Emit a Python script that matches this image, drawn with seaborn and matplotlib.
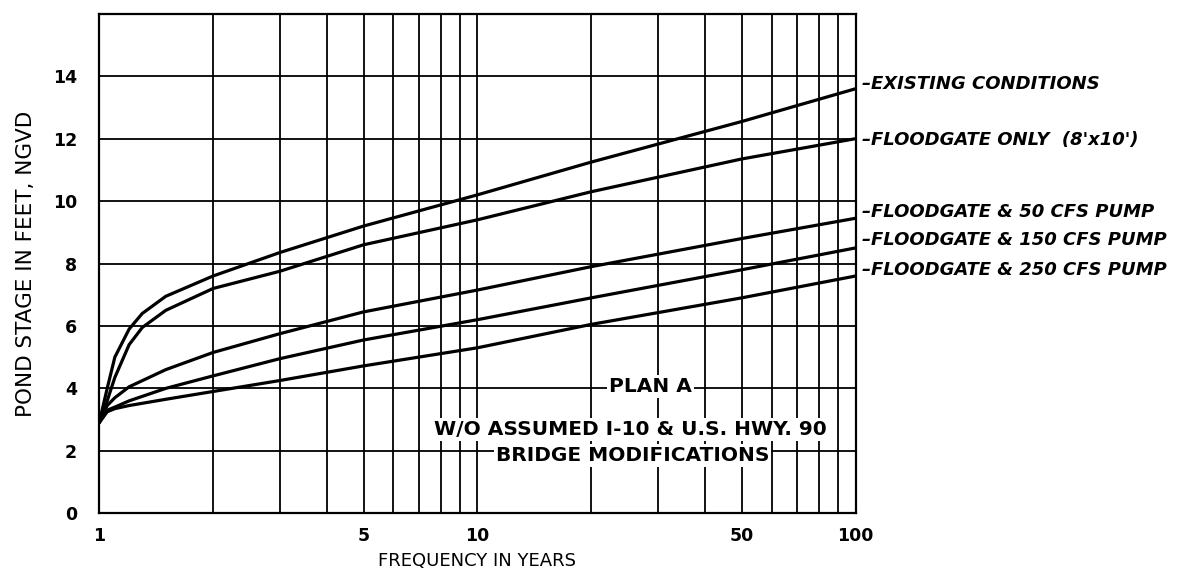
import numpy as np
import pandas as pd
import matplotlib
matplotlib.use("Agg")
import matplotlib.pyplot as plt
import seaborn as sns

# values (frequency in years -> pond stage, ft NGVD)
freq_steep = [1, 1.05, 1.1, 1.2, 1.3, 1.5, 2, 3, 5, 10, 20, 50, 100]
existing = [2.9, 4.0, 5.0, 5.9, 6.4, 6.95, 7.6, 8.35, 9.2, 10.2, 11.25, 12.55, 13.6]
floodgate_only = [2.9, 3.6, 4.35, 5.4, 5.95, 6.5, 7.2, 7.75, 8.6, 9.4, 10.3, 11.35, 12.0]

freq_pump = [1, 1.05, 1.1, 1.2, 1.5, 2, 3, 5, 10, 20, 50, 100]
pump_50 = [2.9, 3.45, 3.7, 4.05, 4.6, 5.15, 5.75, 6.45, 7.15, 7.9, 8.8, 9.45]
pump_150 = [2.9, 3.3, 3.4, 3.6, 4.0, 4.4, 4.95, 5.55, 6.2, 6.9, 7.8, 8.5]
pump_250 = [2.9, 3.25, 3.35, 3.45, 3.65, 3.9, 4.25, 4.72, 5.3, 6.05, 6.9, 7.6]

series_names = ["EXISTING CONDITIONS", "FLOODGATE ONLY  (8'x10')",
                "FLOODGATE & 50 CFS PUMP", "FLOODGATE & 150 CFS PUMP",
                "FLOODGATE & 250 CFS PUMP"]
label_y = [13.75, 11.95, 9.65, 8.75, 7.8]

x_ticks = [1, 5, 10, 50, 100]
y_ticks = [0, 2, 4, 6, 8, 10, 12, 14]

# long table for seaborn
rows = []
for name, xs, ys in zip(series_names,
                        [freq_steep, freq_steep, freq_pump, freq_pump, freq_pump],
                        [existing, floodgate_only, pump_50, pump_150, pump_250]):
    for x, y in zip(xs, ys):
        rows.append((name, x, y))
df = pd.DataFrame(rows, columns=["series", "freq", "stage"])

sns.set_style("white")
plt.rcParams['font.family'] = ['DejaVu Sans']
plt.rcParams['text.color'] = 'black'
plt.rcParams['axes.labelcolor'] = 'black'
plt.rcParams['xtick.color'] = 'black'
plt.rcParams['ytick.color'] = 'black'

fig = plt.figure(figsize=(11.95, 5.76), dpi=100)
ax = fig.add_axes([0.083, 0.109, 0.633, 0.867])

ax.set_xscale("log")
ax.set_xlim(1, 100)
ax.set_ylim(0, 16)

# log grid
ax.set_xticks(x_ticks)
ax.set_xticklabels([str(t) for t in x_ticks])
ax.xaxis.set_minor_locator(matplotlib.ticker.LogLocator(base=10, subs=np.arange(2, 10)))
ax.xaxis.set_minor_formatter(matplotlib.ticker.NullFormatter())
ax.set_yticks(y_ticks)
ax.grid(True, which="both", axis="x", color="black", lw=1.3)
ax.grid(True, which="major", axis="y", color="black", lw=1.3)
ax.tick_params(which="both", length=0, labelsize=12.5)
ax.tick_params(axis="y", pad=16)
ax.tick_params(axis="x", pad=10)
for lab in ax.get_xticklabels() + ax.get_yticklabels():
    lab.set_fontweight("bold")
for s in ax.spines.values():
    s.set_color("black")
    s.set_linewidth(1.6)

sns.lineplot(data=df, x="freq", y="stage", hue="series", units="series",
             estimator=None, palette=["black"] * 5, linewidth=2.3,
             legend=False, ax=ax, zorder=3)

# right-hand curve labels
for name, yv in zip(series_names, label_y):
    ax.text(1.008, yv, "\u2013" + name, transform=ax.get_yaxis_transform(),
            fontsize=13, fontstyle="italic", fontweight="bold",
            va="center", ha="left", clip_on=False)

box = dict(facecolor="white", edgecolor="none", pad=1.5)
ax.text(0.729, 4.05, "PLAN A", transform=ax.get_yaxis_transform(),
        fontsize=14.5, fontweight="bold", ha="center", va="center", bbox=box, zorder=4)
ax.text(0.702, 2.68, "W/O ASSUMED I-10 & U.S. HWY. 90", transform=ax.get_yaxis_transform(),
        fontsize=14.5, fontweight="bold", ha="center", va="center", bbox=box, zorder=4)
ax.text(0.705, 1.86, "BRIDGE MODIFICATIONS", transform=ax.get_yaxis_transform(),
        fontsize=14.5, fontweight="bold", ha="center", va="center", bbox=box, zorder=4)

ax.set_xlabel("FREQUENCY IN YEARS", fontsize=13, labelpad=5)
ax.set_ylabel("POND STAGE IN FEET, NGVD", fontsize=15.5, labelpad=12)

fig.savefig("out.png", dpi=100)
